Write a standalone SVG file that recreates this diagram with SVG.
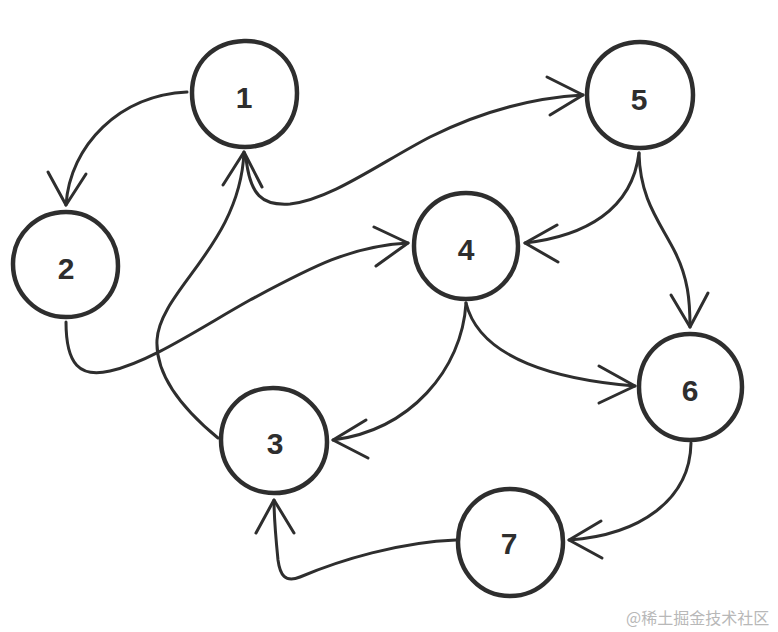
<svg xmlns="http://www.w3.org/2000/svg" width="778" height="632" viewBox="0 0 778 632">
<style>
.node{fill:none;stroke:#2e2e2e;stroke-width:4.5;stroke-linecap:round;stroke-linejoin:round}
.lbl{font-family:"Liberation Sans",Arial,sans-serif;font-weight:bold;font-size:30px;fill:#2e2e2e;text-anchor:middle;dominant-baseline:central}
.edge{fill:none;stroke:#2e2e2e;stroke-width:3;stroke-linecap:round;stroke-linejoin:round}
.wm{font-family:"Noto Sans CJK SC","Liberation Sans",sans-serif;font-size:16px;fill:#b8b8b8}
</style>
<rect width="778" height="632" fill="#ffffff"/>
<g id="connectors">
  <!-- 1 -> 2 -->
  <path class="edge" d="M187,92 C120,95 70,145 66,205"/>
  <path class="edge" d="M48,172 L66,205 L86,174"/>
  <!-- 3 -> 1 -->
  <path class="edge" d="M218,438 C190,415 155,380 157,340 C160,290 240,245 244,152"/>
  <path class="edge" d="M223,185 L244,152 L262,187"/>
  <!-- 1 -> 5 -->
  <path class="edge" d="M246,158 C250,195 262,206 290,204 C330,200 380,163 430,137 C480,112 530,98 583,95"/>
  <path class="edge" d="M547,77 L583,95 L550,115"/>
  <!-- 5 -> 4 -->
  <path class="edge" d="M639,153 C632,210 585,236 525,243"/>
  <path class="edge" d="M557,225 L525,243 L558,262"/>
  <!-- 5 -> 6 -->
  <path class="edge" d="M639,153 C640,200 660,222 675,252 C688,278 690,300 690,327"/>
  <path class="edge" d="M671,295 L690,327 L708,293"/>
  <!-- 2 -> 4 -->
  <path class="edge" d="M66,322 C66,365 80,378 110,371 C150,362 200,328 250,300 C310,268 350,246 408,243"/>
  <path class="edge" d="M374,227 L408,243 L376,266"/>
  <!-- 4 -> 3 -->
  <path class="edge" d="M466,303 C462,370 410,430 333,440"/>
  <path class="edge" d="M366,420 L333,440 L368,458"/>
  <!-- 4 -> 6 -->
  <path class="edge" d="M466,303 C480,360 560,380 635,386"/>
  <path class="edge" d="M599,366 L635,386 L599,403"/>
  <!-- 6 -> 7 -->
  <path class="edge" d="M691,443 C690,500 640,535 569,540"/>
  <path class="edge" d="M601,521 L569,540 L602,558"/>
  <!-- 7 -> 3 -->
  <path class="edge" d="M456,540 C400,542 340,560 300,577 C285,583 280,575 278,560 C276,540 274,520 274,500"/>
  <path class="edge" d="M256,533 L274,500 L294,533"/>
</g>
<g id="node1">
  <path class="node" d="M244,41 C274,40 297,62 297,93 C297,124 276,147 245,147 C214,147 192,124 192,93 C192,62 214,42 244,41 Z"/>
  <text class="lbl" x="244" y="97">1</text>
</g>
<g id="node2">
  <path class="node" d="M66,212 C95,212 118,236 118,266 C118,296 95,317 66,317 C37,317 13,294 13,264 C13,234 37,212 66,212 Z"/>
  <text class="lbl" x="66" y="268">2</text>
</g>
<g id="node3">
  <path class="node" d="M273,388 C303,388 327,412 327,442 C327,472 304,493 274,493 C244,493 221,470 221,440 C221,410 243,388 273,388 Z"/>
  <text class="lbl" x="275" y="443">3</text>
</g>
<g id="node4">
  <path class="node" d="M466,193 C496,193 518,216 518,246 C518,276 496,299 466,299 C436,299 414,276 414,246 C414,216 436,193 466,193 Z"/>
  <text class="lbl" x="466" y="249">4</text>
</g>
<g id="node5">
  <path class="node" d="M640,42 C670,42 693,64 693,95 C693,126 670,148 640,148 C610,148 587,126 587,95 C587,64 610,42 640,42 Z"/>
  <text class="lbl" x="639" y="99">5</text>
</g>
<g id="node6">
  <path class="node" d="M690,334 C720,334 742,357 742,387 C742,417 720,440 690,440 C660,440 639,417 639,387 C639,357 660,334 690,334 Z"/>
  <text class="lbl" x="690" y="390">6</text>
</g>
<g id="node7">
  <path class="node" d="M510,489 C540,489 563,512 563,542 C563,572 540,596 510,596 C480,596 458,572 458,542 C458,512 480,489 510,489 Z"/>
  <text class="lbl" x="509" y="543">7</text>
</g>
<text class="wm" x="626" y="624">@稀土掘金技术社区</text>
</svg>
